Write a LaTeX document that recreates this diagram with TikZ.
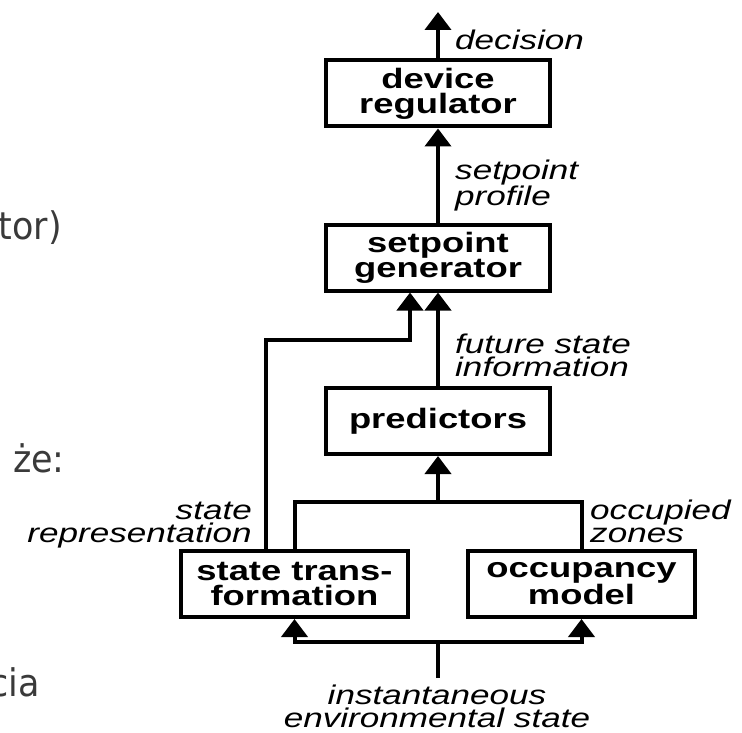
\documentclass[tikz,border=0pt]{standalone}
\usepackage{fontspec}
\usetikzlibrary{arrows.meta}
\newfontfamily\figfont[FakeStretch=1.3]{Liberation Sans}
\newfontfamily\slidefont[FakeStretch=0.92]{DejaVu Sans}
\definecolor{slidegray}{HTML}{3A3A3A}
\begin{document}
\begin{tikzpicture}[x=1pt,y=1pt]
\tikzstyle{every node}+=[inner sep=0pt]
\tikzstyle{block}=[draw, line width=4pt, minimum width=224pt, minimum height=66pt, align=center, font=\figfont\fontsize{28}{25}\selectfont\bfseries]
\tikzstyle{lbl}=[font=\figfont\fontsize{27}{23}\selectfont\itshape]
\tikzstyle{flow}=[line width=4pt, -{Triangle[width=26pt,length=18pt]}]
\tikzstyle{wire}=[line width=4pt]
\tikzstyle{slide}=[font=\slidefont\fontsize{38}{40}\selectfont, text=slidegray]
\useasboundingbox (0,0) rectangle (742,-733);
% left-over words of the slide
\node[slide, anchor=base east] (w1) at (62,-240) {tor)};
\node[slide, anchor=base east] (w2) at (65,-472) {, że:};
\node[slide, anchor=base east] (w3) at (40,-696) {cia};
% blocks
\node[block] (reg) at (438,-93.5) {device\\regulator};
\node[block] (gen) at (438,-257.5) {setpoint\\generator};
\node[block] (pred) at (438,-421) {predictors};
\node[block, minimum width=227pt] (st) at (294.5,-584) {state trans-\\formation};
\node[block, minimum width=227pt] (occ) at (581.5,-584) {occupancy\\model};
% joints
\coordinate (out) at (438,-12);
\coordinate (sr) at (266,-340);
\coordinate (jp) at (438,-502);
\coordinate (jb) at (438,-642);
\coordinate (env) at (438,-678);
% connectors
\draw[flow] (reg.north) -- (out);
\draw[flow] (gen.north) -- (reg.south);
\draw[flow] (pred.north) -- (gen.south);
\draw[flow] (st.north -| sr) -- (sr) -| ([xshift=-28pt]gen.south);
\draw[wire] (st.north) |- (jp) -| (occ.north);
\draw[flow] (jp) -- (pred.south);
\draw[wire] (env) -- (jb);
\draw[flow] (jb) -| (st.south);
\draw[flow] (jb) -| (occ.south);
% labels
\node[lbl, anchor=base west] (dec) at (455,-50) {decision};
\node[lbl, anchor=south west, align=left] (prof) at (455,-211) {setpoint\\profile};
\node[lbl, anchor=south west, align=left] (fut) at (455,-377) {future state\\information};
\node[lbl, anchor=base east, align=right] (rep) at (252,-542) {state\\representation};
\node[lbl, anchor=base west, align=left] (zon) at (590,-542) {occupied\\zones};
\node[lbl, anchor=south, align=center] (inst) at (437,-728) {instantaneous\\environmental state};
\end{tikzpicture}
\end{document}
